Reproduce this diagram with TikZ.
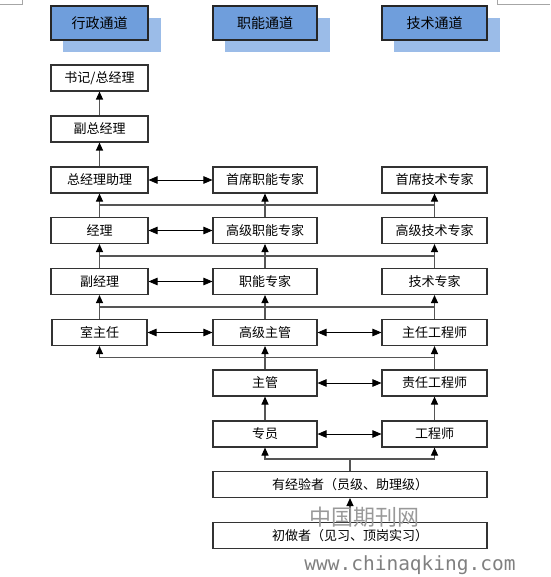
\documentclass[tikz,border=0pt]{standalone}
\usepackage{fontspec}
\newfontfamily\cjk{Noto Sans CJK SC}
\newfontfamily\wmfont{DejaVu Sans Mono}
\usetikzlibrary{arrows.meta,calc}
\definecolor{hdrfill}{RGB}{111,158,220}
\definecolor{hdrshadow}{RGB}{155,188,232}
\definecolor{lnc}{RGB}{85,85,85}
\tikzset{
  box/.style={draw=black!80, line width=1.1pt, fill=white, minimum height=26pt, inner sep=0pt,
    font=\cjk\fontsize{13}{13}\selectfont},
  lbox/.style={box, minimum width=97pt},
  mbox/.style={box, minimum width=104pt},
  rbox/.style={box, minimum width=105pt},
  hdr/.style={draw=black!85, line width=1.2pt, fill=hdrfill, minimum height=34pt, inner sep=0pt,
    font=\cjk\fontsize{14}{14}\selectfont},
  shadowbox/.style={fill=hdrshadow, draw=none, minimum height=34pt, inner sep=0pt},
  conn/.style={draw=lnc, line width=1.1pt},
  up/.style={conn, -{Triangle[length=8pt,width=7pt,color=black]}},
  bi/.style={draw=black, line width=0.8pt, {Triangle[length=9pt,width=7.5pt]}-{Triangle[length=9pt,width=7.5pt]}},
}
\begin{document}
\begin{tikzpicture}[x=1pt,y=-1pt]
\useasboundingbox (0,0) rectangle (550,577);
% page corner marks
\draw[black!35, line width=0.6pt] (0,4) -- (22,4) -- (22,0);
\draw[black!35, line width=0.6pt] (550,4) -- (497,4) -- (497,0);
% headers
\node[shadowbox, minimum width=98pt] (s1) at (112,35.5) {};
\node[shadowbox, minimum width=105pt] (s2) at (277.5,35.5) {};
\node[shadowbox, minimum width=106pt] (s3) at (447,35.5) {};
\node[hdr, minimum width=97pt] (h1) at (99.5,23) {行政通道};
\node[hdr, minimum width=104pt] (h2) at (265,23) {职能通道};
\node[hdr, minimum width=105pt] (h3) at (434.5,23) {技术通道};
% left column
\node[lbox] (l1) at (99.5,78) {书记/总经理};
\node[lbox] (l2) at (99.5,129) {副总经理};
\node[lbox] (l3) at (99.5,180) {总经理助理};
\node[lbox] (l4) at (99.5,230.5) {经理};
\node[lbox] (l5) at (99.5,281.5) {副经理};
\node[lbox, minimum width=95pt] (l6) at (99.5,332.5) {室主任};
% middle column
\node[mbox] (m3) at (265,180) {首席职能专家};
\node[mbox] (m4) at (265,230.5) {高级职能专家};
\node[mbox] (m5) at (265,281.5) {职能专家};
\node[mbox] (m6) at (265,332.5) {高级主管};
\node[mbox] (m7) at (265,383) {主管};
\node[mbox] (m8) at (265,434) {专员};
% right column
\node[rbox] (r3) at (434.5,180) {首席技术专家};
\node[rbox] (r4) at (434.5,230.5) {高级技术专家};
\node[rbox] (r5) at (434.5,281.5) {技术专家};
\node[rbox] (r6) at (434.5,332.5) {主任工程师};
\node[rbox] (r7) at (434.5,383) {责任工程师};
\node[rbox] (r8) at (434.5,434) {工程师};
% bottom
\node[box, minimum width=274pt] (e) at (350,484.5) {有经验者（员级、助理级）};
\node[box, minimum width=274pt] (b) at (350,535.5) {初做者（见习、顶岗实习）};
% junction levels
\coordinate (h34) at (0,205);
\coordinate (h45) at (0,256);
\coordinate (h56) at (0,307);
\coordinate (h67) at (0,357.5);
\coordinate (h89) at (0,459);
% left-only arrows
\draw[up] (l2.north) -- (l1.south);
\draw[up] (l3.north) -- (l2.south);
% rows 3-4
\draw[conn] (l4.north |- h34) -- (r4.north |- h34);
\draw[up] (l4.north) -- (l3.south);
\draw[up] (m4.north) -- (m3.south);
\draw[up] (r4.north) -- (r3.south);
% rows 4-5
\draw[conn] (l5.north |- h45) -- (r5.north |- h45);
\draw[up] (l5.north) -- (l4.south);
\draw[up] (m5.north) -- (m4.south);
\draw[up] (r5.north) -- (r4.south);
% rows 5-6
\draw[conn] (l6.north |- h56) -- (r6.north |- h56);
\draw[up] (l6.north) -- (l5.south);
\draw[up] (m6.north) -- (m5.south);
\draw[up] (r6.north) -- (r5.south);
% rows 6-7
\draw[conn] (l6.south |- h67) -- (r6.south |- h67);
\draw[up] (l6.south |- h67) -- (l6.south);
\draw[up] (m7.north) -- (m6.south);
\draw[up] (r7.north) -- (r6.south);
% rows 7-8
\draw[up] (m8.north) -- (m7.south);
\draw[up] (r8.north) -- (r7.south);
% rows 8-9
\draw[up] (e.north) -- (e.north |- h89) -| (m8.south);
\draw[up] (e.north |- h89) -| (r8.south);
% rows 9-10
\draw[up] (b.north) -- (e.south);
% horizontal bidirectional
\draw[bi] (l3.east) -- (m3.west);
\draw[bi] (l4.east) -- (m4.west);
\draw[bi] (l5.east) -- (m5.west);
\draw[bi] (l6.east) -- (m6.west);
\draw[bi] (m6.east) -- (r6.west);
\draw[bi] (m7.east) -- (r7.west);
\draw[bi] (m8.east) -- (r8.west);
% watermark
\node[text=black!40, font=\cjk\fontsize{22}{22}\selectfont, inner sep=0pt] (wm1) at (364.5,517) {中国期刊网};
\node[text=black!50, font=\wmfont\fontsize{19.5}{19.5}\selectfont, inner sep=0pt] (wm2) at (410,565) {www.chinaqking.com};
\end{tikzpicture}
\end{document}
